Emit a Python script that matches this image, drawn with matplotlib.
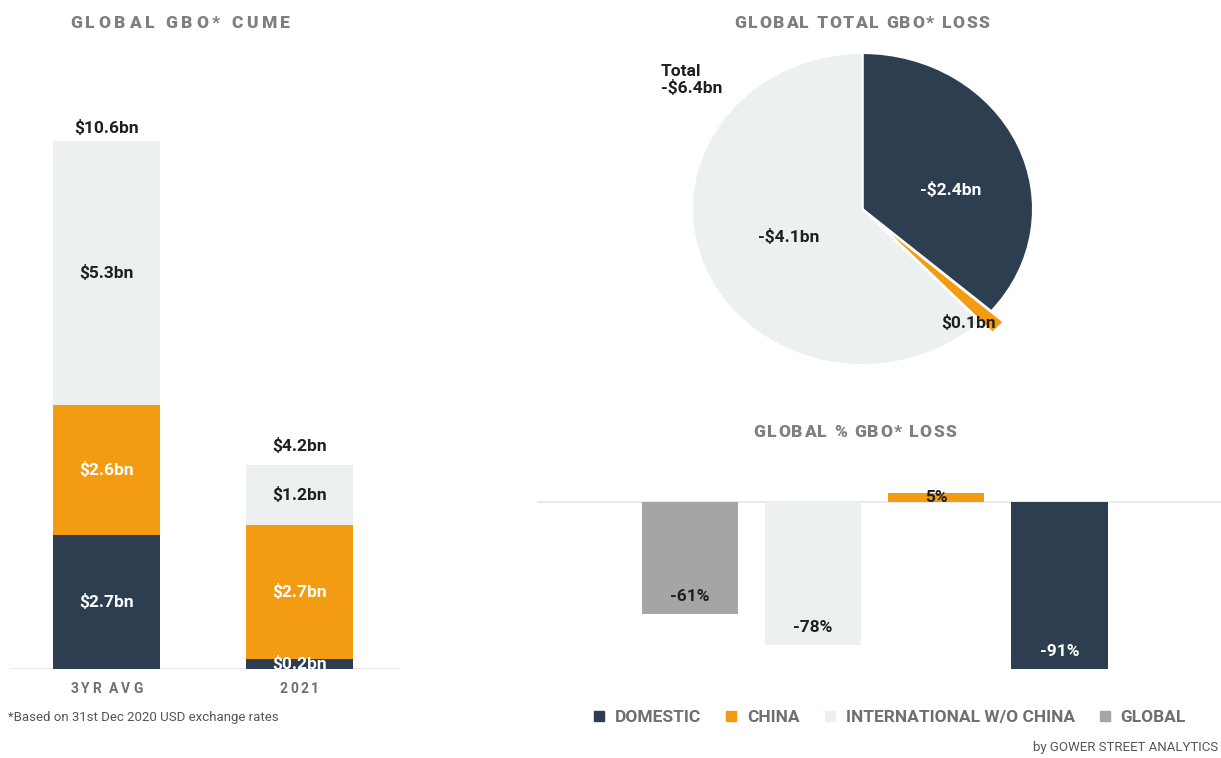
import matplotlib
matplotlib.use("Agg")
import matplotlib.pyplot as plt
from matplotlib.lines import Line2D
from matplotlib.font_manager import FontProperties

plt.rcParams["font.family"] = ["Roboto", "DejaVu Sans"]

# ---------------- data ----------------
cume_categories = ["3YR AVG", "2021"]
cume_domestic = [2.7, 0.2]
cume_china = [2.6, 2.7]
cume_international = [5.3, 1.2]
cume_totals = [10.6, 4.2]

loss_labels = ["Domestic", "China", "International w/o China"]
loss_values = [2.4, 0.1, 4.1]
loss_text = ["-$2.4bn", "$0.1bn", "-$4.1bn"]
loss_total_text = "Total\n-$6.4bn"

pct_categories = ["GLOBAL", "INTERNATIONAL W/O CHINA", "CHINA", "DOMESTIC"]
pct_values = [-61, -78, 5, -91]

legend_labels = ["DOMESTIC", "CHINA", "INTERNATIONAL W/O CHINA", "GLOBAL"]

# ---------------- styles ----------------
NAVY = "#2c3e50"
ORANGE = "#f39c12"
LIGHT = "#ecf0f1"
GRAY = "#a5a5a5"
TITLE = "#7f7f7f"
TEXT = "#1f1f1f"
LINE = "#e6e6e6"
VAL = 12.5

W, H = 1221, 758
fig = plt.figure(figsize=(W / 100, H / 100), dpi=100)


def ax_px(l, t, r, b):
    return fig.add_axes([l / W, 1 - b / H, (r - l) / W, (b - t) / H])


def ftxt(x, y, s, **kw):
    return fig.text(x / W, 1 - y / H, s, **kw)


renderer = fig.canvas.get_renderer()


def spaced(x, y, s, spacing, ha="left", size=11, weight="bold", color=TITLE):
    fp = FontProperties(family=["Roboto", "DejaVu Sans"], size=size, weight=weight)
    widths = []
    for ch in s:
        w, h, d = renderer.get_text_width_height_descent(ch, fp, ismath=False)
        widths.append(w)
    total = sum(widths) + spacing * (len(s) - 1)
    if ha == "center":
        x0 = x - total / 2
    elif ha == "right":
        x0 = x - total
    else:
        x0 = x
    cx = x0
    for ch, w in zip(s, widths):
        if ch != " ":
            ftxt(cx, y, ch, fontproperties=fp, color=color, ha="left", va="center")
        cx += w + spacing


# ---------------- left: stacked bars ----------------
ax1 = ax_px(10, 100, 400, 669)
x = range(len(cume_categories))
bw = 0.554
ax1.bar(x, cume_domestic, bw, color=NAVY)
bottom2 = cume_domestic
ax1.bar(x, cume_china, bw, bottom=bottom2, color=ORANGE)
bottom3 = [a + b for a, b in zip(cume_domestic, cume_china)]
ax1.bar(x, cume_international, bw, bottom=bottom3, color=LIGHT)
ax1.set_xlim(-0.5, 1.52)
ax1.set_ylim(0, 11.43)
ax1.axis("off")
ax1.axhline(0, color=LINE, lw=1.2, zorder=0)

for i in x:
    ax1.text(i, cume_domestic[i] / 2, f"${cume_domestic[i]}bn", ha="center", va="center",
             color="white", fontsize=VAL, fontweight="bold")
    ax1.text(i, bottom2[i] + cume_china[i] / 2, f"${cume_china[i]}bn", ha="center", va="center",
             color="white", fontsize=VAL, fontweight="bold")
    ax1.text(i, bottom3[i] + cume_international[i] / 2, f"${cume_international[i]}bn", ha="center",
             va="center", color=TEXT, fontsize=VAL, fontweight="bold")
    ax1.annotate(f"${cume_totals[i]}bn", (i, cume_totals[i]), xytext=(0, 4), textcoords="offset points",
                 ha="center", va="bottom", color=TEXT, fontsize=VAL, fontweight="bold")

for i, cat in enumerate(cume_categories):
    px, _ = ax1.transData.transform((i, 0))
    spaced(px, 689, cat, 2.5, ha="center", size=10, color="#6f6f6f")

spaced(70, 23, "GLOBAL GBO* CUME", 3.6, size=12.5, weight="heavy")
ftxt(8, 718, "*Based on 31st Dec 2020 USD exchange rates", fontsize=9.5, color="#555555", va="center")

# ---------------- pie ----------------
ax2 = ax_px(692, 53, 1033, 365)
wedges, _ = ax2.pie(loss_values, colors=[NAVY, ORANGE, LIGHT], startangle=90, counterclock=False,
                    explode=[0, 0.1, 0], wedgeprops=dict(edgecolor="white", linewidth=1.5))
ax2.set_aspect("auto")
ax2.set_xlim(-1, 1)
ax2.set_ylim(-1, 1)
for w in wedges:
    w.set_clip_on(False)
ax2.text(0.52, 0.12, loss_text[0], ha="center", va="center", color="white", fontsize=VAL, fontweight="bold")
ax2.text(0.62, -0.73, loss_text[1], ha="center", va="center", color=TEXT, fontsize=VAL, fontweight="bold")
ax2.text(-0.43, -0.18, loss_text[2], ha="center", va="center", color=TEXT, fontsize=VAL, fontweight="bold")
ftxt(661, 80, loss_total_text, ha="left", va="center", multialignment="left", color=TEXT,
     fontsize=VAL, fontweight="bold", linespacing=1.15)
spaced(862, 23, "GLOBAL TOTAL GBO* LOSS", 1.6, ha="center", size=12.5, weight="heavy")

# ---------------- % loss bars ----------------
ax3 = ax_px(537, 470, 1221, 690)
pos = range(len(pct_values))
pct_colors = [GRAY, LIGHT, ORANGE, NAVY]
ax3.bar(pos, pct_values, 0.78, color=pct_colors)
ax3.set_xlim(-1.24, 4.31)
ax3.set_ylim(-102.2, 17.4)
ax3.axis("off")
ax3.axhline(0, color=LINE, lw=1.2, zorder=0)
pct_text_colors = [TEXT, TEXT, TEXT, "white"]
for i, v in zip(pos, pct_values):
    if v < 0:
        ax3.annotate(f"{v}%", (i, v), xytext=(0, 13), textcoords="offset points", ha="center",
                     va="center", color=pct_text_colors[i], fontsize=VAL, fontweight="bold")
    else:
        ax3.text(i, v / 2, f"{v}%", ha="center", va="center", color=pct_text_colors[i],
                 fontsize=VAL, fontweight="bold")
spaced(855, 432, "GLOBAL % GBO* LOSS", 1.4, ha="center", size=12.5, weight="heavy")

# ---------------- legend ----------------
leg_colors = [NAVY, ORANGE, LIGHT, GRAY]
handles = [Line2D([], [], marker="s", linestyle="none", markersize=7, color=c) for c in leg_colors]
leg = fig.legend(handles, legend_labels, loc="center", bbox_to_anchor=(889 / W, 1 - 717 / H), ncol=4,
                 frameon=False, handlelength=0.8, handletextpad=0.5, columnspacing=1.35,
                 prop=FontProperties(family=["Roboto", "DejaVu Sans"], size=12.5, weight="bold"))
for t in leg.get_texts():
    t.set_color("#6f6f6f")

ftxt(1218, 748, "by GOWER STREET ANALYTICS", ha="right", va="center", fontsize=9.5, color="#555555")

fig.savefig("out.png", dpi=100, facecolor="white")
